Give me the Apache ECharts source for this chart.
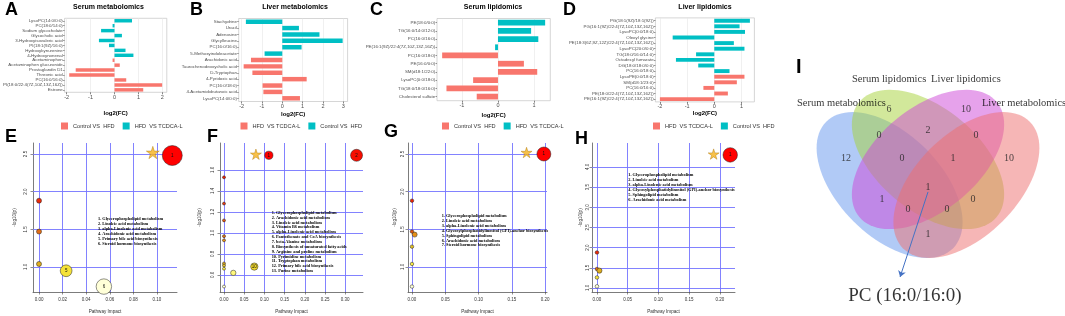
<!DOCTYPE html>
<html>
<head>
<meta charset="utf-8">
<title>Metabolomics and lipidomics overview</title>
<script src="https://cdn.jsdelivr.net/npm/echarts@6.0.0/dist/echarts.min.js"></script>
<style>
  html, body { margin: 0; padding: 0; background: #fff; }
  #chart { width: 1065px; height: 316px; }
</style>
</head>
<body>
<div id="chart"></div>
<script>
// ---------- A: serum metabolomics, log2(FC)
const catsA_teal = ['LysoPC(14:0/0:0)', 'PC(18:0/14:0)', 'Sodium glycocholate', 'Glycocholic acid',
  '3-Hydroxyisovaleric acid', 'PI(18:1(9Z)/16:0)', 'Hydroxykynurenine', '4-Hydroxynonenal'];
const fcA_teal = [0.73, -0.08, -0.56, 0.31, -0.65, -0.23, 0.46, 0.79];
const catsA_red = ['Acetaminophen', 'Acetaminophen glucuronide', 'Prostaglandin D1', 'Threonic acid',
  'PC(16:0/16:0)', 'PI(18:0/22:4(7Z,10Z,13Z,16Z))', 'Estrone'];
const fcA_red = [-0.08, 0.22, -1.62, -1.89, 0.49, 1.99, 1.2];
const ticksA = [-2, -1, 0, 1, 2];

// ---------- B: liver metabolomics
const catsB_teal = ['Stachydrine', 'Uracil', 'Adenosine', 'Glycylleucine', 'PC(16:0/16:0)', '5-Methoxyindoleacetate'];
const fcB_teal = [-1.79, 0.82, 1.83, 2.97, 0.95, -0.87];
const catsB_red = ['Arachidonic acid', 'Taurochenodeoxycholic acid', 'D-Tryptophan', '4-Pyridoxic acid',
  'PC(16:0/18:0)', '4-Acetamidobutanoic acid', 'LysoPC(14:0/0:0)'];
const fcB_red = [-1.54, -1.9, -1.47, 1.2, -0.97, -0.93, 0.87];
const ticksB = [-2, -1, 0, 1, 2, 3];

// ---------- C: serum lipidomics
const catsC_teal = ['PE(18:0/0:0)', 'TG(16:0/14:0/12:0)', 'PC(16:0/16:0)', 'PE(16:1(9Z)/22:4(7Z,10Z,13Z,16Z))'];
const fcC_teal = [1.31, 0.92, 1.12, -0.08];
const catsC_red = ['PC(16:0/18:0)', 'PE(16:0/0:0)', 'SM(d18:1/22:0)', 'LysoPC(0:0/18:0)',
  'TG(18:0/18:0/16:0)', 'Cholesterol sulfate'];
const fcC_red = [-1.55, 0.72, 1.09, -0.69, -1.43, -0.59];
const ticksC = [-1, 0, 1];

// ---------- D: liver lipidomics
const catsD_teal = ['PG(18:1(9Z)/18:1(9Z))', 'PG(16:1(9Z)/22:4(7Z,10Z,13Z,16Z))', 'LysoPC(0:0/18:0)', 'Oleoyl glycine',
  'PE(18:3(6Z,9Z,12Z)/22:4(7Z,10Z,13Z,16Z))', 'LysoPC(20:0/0:0)', 'TG(18:0/16:0/14:0)', 'Octadecyl fumarate',
  'DG(18:0/18:0/0:0)', 'PC(16:0/18:0)'];
const fcD_teal = [1.31, 0.93, 1.13, -1.53, 0.72, 1.11, -0.67, -1.41, -0.59, 0.56];
const catsD_red = ['LysoPE(0:0/18:0)', 'SM(d18:1/23:0)', 'PC(16:0/16:0)', 'PE(18:0/22:4(7Z,10Z,13Z,16Z))',
  'PE(16:1(9Z)/22:4(7Z,10Z,13Z,16Z))'];
const fcD_red = [1.11, 0.83, -0.40, 0.5, -2.0];
const ticksD = [-2, -1, 0, 1];

// ---------- E-H: pathway analysis, [impact, -log10(p), pathway no.]
const pathE = [[0.113, 2.48, 1], [0, 1.88, 2], [0, 1.47, 3], [0, 1.04, 4], [0.023, 0.95, 5], [0.055, 0.74, 6]];
const starE = [[0.0965, 2.52]];
const xTicksE = [0, 0.02, 0.04, 0.06, 0.08, 0.10];
const yTicksE = [1.0, 1.5, 2.0, 2.5];
const namesE = ['Glycerophospholipid metabolism', 'Linoleic acid metabolism', 'alpha-Linolenic acid metabolism',
  'Arachidonic acid metabolism', 'Primary bile acid biosynthesis', 'Steroid hormone biosynthesis'];

const pathF = [[0.111, 1.74, 1], [0.328, 1.74, 2], [0, 1.53, 3], [0, 1.28, 4], [0, 1.12, 5], [0, 0.97, 6],
  [0, 0.93, 7], [0, 0.71, 8], [0, 0.69, 9], [0.075, 0.68, 10], [0, 0.66, 11], [0.023, 0.62, 12], [0, 0.49, 13]];
const starF = [[0.079, 1.75]];
const xTicksF = [0, 0.05, 0.10, 0.15, 0.20, 0.25, 0.30];
const yTicksF = [0.6, 0.8, 1.0, 1.2, 1.4, 1.6];
const namesF = ['Glycerophospholipid metabolism', 'Arachidonic acid metabolism', 'Linoleic acid metabolism',
  'Vitamin B6 metabolism', 'alpha-Linolenic acid metabolism', 'Pantothenate and CoA biosynthesis',
  'beta-Alanine metabolism', 'Biosynthesis of unsaturated fatty acids', 'Arginine and proline metabolism',
  'Pyrimidine metabolism', 'Tryptophan metabolism', 'Primary bile acid biosynthesis', 'Purine metabolism'];

const pathG = [[0.198, 2.5, 1], [0, 1.88, 2], [0, 1.47, 3], [0.004, 1.43, 4], [0, 1.27, 5], [0, 1.04, 6], [0, 0.74, 7]];
const starG = [[0.172, 2.52]];
const xTicksG = [0, 0.05, 0.10, 0.15, 0.20];
const yTicksG = [1.0, 1.5, 2.0, 2.5];
const namesG = ['Glycerophospholipid metabolism', 'Linoleic acid metabolism', 'alpha-Linolenic acid metabolism',
  'Glycosylphosphatidylinositol (GPI)-anchor biosynthesis', 'Sphingolipid metabolism',
  'Arachidonic acid metabolism', 'Steroid hormone biosynthesis'];

const pathH = [[0.217, 4.3, 1], [0, 1.88, 2], [0, 1.47, 3], [0.004, 1.43, 4], [0, 1.26, 5], [0, 1.04, 6]];
const starH = [[0.19, 4.32]];
const xTicksH = [0, 0.05, 0.10, 0.15, 0.20];
const yTicksH = [1.0, 1.5, 2.0, 2.5, 3.0, 3.5, 4.0];
const namesH = ['Glycerophospholipid metabolism', 'Linoleic acid metabolism', 'alpha-Linolenic acid metabolism',
  'Glycosylphosphatidylinositol (GPI)-anchor biosynthesis', 'Sphingolipid metabolism', 'Arachidonic acid metabolism'];

// ---------- I: venn diagram
const vennSets = ['Serum metabolomics', 'Serum lipidomics', 'Liver lipidomics', 'Liver metabolomics'];
const vennRegions = ['SM', 'SL', 'LL', 'LM', 'SM&SL', 'SL&LL', 'LL&LM', 'SM&SL&LL', 'SL&LL&LM',
  'SM&LL', 'SL&LM', 'SM&SL&LL&LM', 'SM&LL&LM', 'SM&SL&LM', 'SM&LM'];
const vennCounts = [12, 6, 10, 10, 0, 2, 0, 0, 1, 1, 0, 1, 0, 0, 1];
const sharedLipid = 'PC (16:0/16:0)';

// layout of the venn in unit space (centre x, centre y, semi axes, rotation)
const vennShapes = [[0.35, 0.47, 0.35, 0.2, -45], [0.5, 0.57, 0.35, 0.2, -40],
  [0.5, 0.57, 0.35, 0.2, 40], [0.65, 0.47, 0.35, 0.2, 45]];
const vennFill = ['rgba(100,149,237,0.5)', 'rgba(165,210,55,0.5)', 'rgba(205,70,215,0.5)', 'rgba(238,110,110,0.5)'];
const vennCountPos = [[0.180, 0.576], [0.348, 0.767], [0.648, 0.767], [0.816, 0.576], [0.309, 0.665],
  [0.5, 0.685], [0.6875, 0.665], [0.398, 0.576], [0.598, 0.576], [0.320, 0.415], [0.676, 0.415],
  [0.5, 0.462], [0.422, 0.376], [0.574, 0.376], [0.5, 0.279]];
const vennSetPos = [[0.162, 0.790], [0.348, 0.884], [0.648, 0.884], [0.875, 0.790]];

const sans = '"Liberation Sans", Arial, sans-serif';
const serif = '"Liberation Serif", "Times New Roman", serif';
const RED = '#F8766D', TEAL = '#00BFC4';
const CTRL = 'Control VS  HFD', TREAT = 'HFD  VS TCDCA-L';

const barPanels = [
  { key: 'A', title: 'Serum metabolomics', titleX: 108.5, tc: catsA_teal, tv: fcA_teal, rc: catsA_red, rv: fcA_red,
    redName: CTRL, tealName: TREAT, grid: { left: 62.2, top: 18.3, width: 104.6, height: 74 },
    min: -2.084, max: 2.184, ticks: ticksA, nameGap: 18.5, legendLeft: 61 },
  { key: 'B', title: 'Liver metabolomics', titleX: 295, tc: catsB_teal, tv: fcB_teal, rc: catsB_red, rv: fcB_red,
    redName: TREAT, tealName: CTRL, grid: { left: 238.7, top: 18.5, width: 108.9, height: 83 },
    min: -2.1435, max: 3.2135, ticks: ticksB, nameGap: 9.5, legendLeft: 240.5 },
  { key: 'C', title: 'Serum lipidomics', titleX: 493, tc: catsC_teal, tv: fcC_teal, rc: catsC_red, rv: fcC_red,
    redName: CTRL, tealName: TREAT, grid: { left: 437, top: 18.5, width: 113.3, height: 82.2 },
    min: -1.693, max: 1.453, ticks: ticksC, nameGap: 11.3, legendLeft: 442 },
  { key: 'D', title: 'Liver lipidomics', titleX: 705, tc: catsD_teal, tv: fcD_teal, rc: catsD_red, rv: fcD_red,
    redName: TREAT, tealName: CTRL, grid: { left: 655.4, top: 17.9, width: 99, height: 84 },
    min: -2.1655, max: 1.4755, ticks: ticksD, nameGap: 8.1, legendLeft: 653 }
];

const scatterPanels = [
  { pts: pathE, star: starE, xt: xTicksE, yt: yTicksE, names: namesE,
    grid: { left: 33, top: 143, width: 144, height: 149 }, xr: [-0.0051, 0.117], yr: [0.668, 2.646],
    maxD: 20, starD: 13, list: { left: 98, top: 216.6, lh: 4.87 }, yMargin: 5, yGap: 16 },
  { pts: pathF, star: starF, xt: xTicksF, yt: yTicksF, names: namesF,
    grid: { left: 220, top: 143, width: 143, height: 149 }, xr: [-0.0099, 0.344], yr: [0.438, 1.857],
    maxD: 12, starD: 11, list: { left: 271.7, top: 210.3, lh: 4.86 }, yMargin: 5, yGap: 18 },
  { pts: pathG, star: starG, xt: xTicksG, yt: yTicksG, names: namesG,
    grid: { left: 408, top: 143, width: 139, height: 149 }, xr: [-0.006, 0.2027], yr: [0.668, 2.646],
    maxD: 14, starD: 11, list: { left: 441.7, top: 213.5, lh: 4.9 }, yMargin: 2.5, yGap: 11 },
  { pts: pathH, star: starH, xt: xTicksH, yt: yTicksH, names: namesH,
    grid: { left: 592, top: 143, width: 143, height: 149 }, xr: [-0.0081, 0.2248], yr: [0.90, 4.595],
    maxD: 14.5, starD: 11, list: { left: 628.3, top: 172.8, lh: 5.0 }, yMargin: 2, yGap: 9 }
];

// colour by pathway rank: first (most significant) red, last pale
const rankHeat = ['#FF0000', '#F21400', '#E43A12', '#E06414', '#E69018', '#DDB420', '#EED62A', '#FFF550', '#FFFFD8'];
const starPath = 'path://M50,0 L61,35 L98,35 L68,57 L79,91 L50,70 L21,91 L32,57 L2,35 L39,35 Z';

const grids = [], xAxes = [], yAxes = [], series = [], titles = [], legends = [], visualMaps = [];
const legendText = {};

barPanels.forEach((p, i) => {
  grids.push(Object.assign({ show: true, borderColor: '#c4c4c4', borderWidth: 0.7, backgroundColor: '#fff' }, p.grid));
  xAxes.push({
    gridIndex: i, type: 'value', min: p.min, max: p.max,
    axisLine: { show: false, onZero: false },
    axisTick: { show: true, length: 2, customValues: p.ticks, lineStyle: { color: '#333', width: 0.6 } },
    axisLabel: { fontSize: 5.5, color: '#4d4d4d', margin: 1.8, fontFamily: sans, customValues: p.ticks },
    splitLine: { show: true, lineStyle: { color: '#e6e6e6', width: 0.6 } },
    name: 'log2(FC)', nameLocation: 'middle', nameGap: p.nameGap,
    nameTextStyle: { fontSize: 6, fontWeight: 'bold', color: '#000', fontFamily: sans }
  });
  const cats = p.tc.concat(p.rc);
  yAxes.push({
    gridIndex: i, type: 'category', data: cats, inverse: true,
    axisLine: { show: false, onZero: false },
    axisTick: { show: true, length: 1.5, alignWithLabel: true, lineStyle: { color: '#333', width: 0.5 } },
    axisLabel: { fontSize: 4.4, color: '#4d4d4d', margin: 1.8, fontFamily: sans, interval: 0 },
    splitLine: { show: false }
  });
  const redKey = p.key + '_red', tealKey = p.key + '_teal';
  legendText[redKey] = p.redName;
  legendText[tealKey] = p.tealName;
  series.push({
    name: redKey, type: 'bar', xAxisIndex: i, yAxisIndex: i, barWidth: '70%', barGap: '-100%',
    itemStyle: { color: RED }, data: p.tc.map(() => '-').concat(p.rv)
  });
  series.push({
    name: tealKey, type: 'bar', xAxisIndex: i, yAxisIndex: i, barWidth: '70%', barGap: '-100%',
    itemStyle: { color: TEAL }, data: p.tv.concat(p.rc.map(() => '-'))
  });
  titles.push({
    text: p.title, left: p.titleX, top: 3.5, textAlign: 'center', padding: 0,
    textStyle: { fontSize: 7, fontWeight: 'bold', color: '#000', fontFamily: sans }
  });
  legends.push({
    left: p.legendLeft, top: 122.5, padding: 0, itemWidth: 7, itemHeight: 7, itemGap: 8, icon: 'rect',
    selectedMode: false, data: [redKey, tealKey], formatter: n => legendText[n],
    textStyle: { fontSize: 5.6, color: '#333', fontFamily: sans }
  });
});

scatterPanels.forEach((p, k) => {
  const gi = 4 + k;
  const xMaxData = Math.max(...p.pts.map(d => d[0]));
  const sizeOf = v => p.maxD * (0.25 + 0.75 * Math.sqrt(v[0] / xMaxData));
  grids.push(Object.assign({ show: false }, p.grid));
  xAxes.push({
    gridIndex: gi, type: 'value', min: p.xr[0], max: p.xr[1],
    axisLine: { show: true, onZero: false, lineStyle: { color: '#444', width: 0.7 } },
    axisTick: { show: true, length: 2.5, customValues: p.xt, lineStyle: { color: '#444', width: 0.6 } },
    axisLabel: { fontSize: 4.5, color: '#333', margin: 5.5, fontFamily: sans, customValues: p.xt,
      formatter: v => v.toFixed(2) },
    splitLine: { show: false },
    name: 'Pathway Impact', nameLocation: 'middle', nameGap: 17.5,
    nameTextStyle: { fontSize: 4.6, color: '#333', fontFamily: sans }
  });
  yAxes.push({
    gridIndex: gi, type: 'value', min: p.yr[0], max: p.yr[1],
    axisLine: { show: true, onZero: false, lineStyle: { color: '#444', width: 0.7 } },
    axisTick: { show: true, length: 2.5, customValues: p.yt, lineStyle: { color: '#444', width: 0.6 } },
    axisLabel: { fontSize: 4.5, color: '#333', margin: p.yMargin, rotate: 90, fontFamily: sans, customValues: p.yt,
      formatter: v => v.toFixed(1) },
    splitLine: { show: false },
    name: '-log10(p)', nameLocation: 'middle', nameGap: p.yGap, nameRotate: 90,
    nameTextStyle: { fontSize: 4.6, color: '#333', fontFamily: sans }
  });
  // blue reference grid at the tick values, kept under the bubbles
  series.push({
    type: 'line', xAxisIndex: gi, yAxisIndex: gi, data: [], z: 1, silent: true,
    markLine: {
      z: 1, silent: true, symbol: 'none', animation: false, label: { show: false },
      lineStyle: { color: '#7474ff', width: 1, type: 'solid', opacity: 0.9 },
      data: p.xt.map(v => ({ xAxis: v })).concat(p.yt.map(v => ({ yAxis: v })))
    }
  });
  visualMaps.push({
    type: 'continuous', show: false, seriesIndex: series.length, dimension: 2,
    min: 1, max: p.pts.length, inRange: { color: rankHeat }
  });
  series.push({
    type: 'scatter', xAxisIndex: gi, yAxisIndex: gi, z: 3, clip: false, data: p.pts,
    symbolSize: sizeOf,
    itemStyle: { borderColor: '#222', borderWidth: 0.5, opacity: 1 },
    label: { show: true, position: 'inside', fontSize: 4.5, color: '#111', fontFamily: sans,
      formatter: d => (sizeOf(d.value) >= 7 ? String(d.value[2]) : '') }
  });
  series.push({
    type: 'scatter', xAxisIndex: gi, yAxisIndex: gi, z: 4, clip: false, data: p.star,
    symbol: starPath, symbolSize: p.starD, symbolKeepAspect: true,
    itemStyle: { color: '#F6B21B', borderColor: '#A87000', borderWidth: 0.5 }
  });
  titles.push({
    text: p.names.map((n, j) => (j + 1) + '. ' + n).join('\n'), left: p.list.left, top: p.list.top, padding: 0,
    textStyle: { fontSize: 4.3, lineHeight: p.list.lh, fontWeight: 'bold', color: '#000', fontFamily: serif }
  });
});

// venn grid: unit space mapped so both axes share one scale
grids.push({ show: false, left: 780, top: 40, width: 285, height: 276 });
xAxes.push({ gridIndex: 8, type: 'value', min: -0.078, max: 1.035, show: false });
yAxes.push({ gridIndex: 8, type: 'value', min: -0.0416, max: 1.0366, show: false });
series.push({
  type: 'custom', xAxisIndex: 8, yAxisIndex: 8, silent: true, z: 1, data: vennShapes,
  renderItem: (params, api) => {
    const cx = api.value(0), cy = api.value(1), a = api.value(2), b = api.value(3);
    const r = api.value(4) * Math.PI / 180;
    const pts = [];
    for (let s = 0; s < 96; s++) {
      const t = s / 96 * Math.PI * 2;
      const x = cx + a * Math.cos(t) * Math.cos(r) - b * Math.sin(t) * Math.sin(r);
      const y = cy + a * Math.cos(t) * Math.sin(r) + b * Math.sin(t) * Math.cos(r);
      pts.push(api.coord([x, y]));
    }
    return { type: 'polygon', shape: { points: pts }, style: { fill: vennFill[params.dataIndex], stroke: null } };
  }
});
series.push({
  type: 'scatter', xAxisIndex: 8, yAxisIndex: 8, z: 3, symbolSize: 0, silent: true,
  data: vennCountPos.map((pos, j) => ({ value: [pos[0], pos[1], vennCounts[j]], name: vennRegions[j] })),
  label: { show: true, position: 'inside', formatter: d => String(d.value[2]), fontSize: 10, color: '#222',
    fontFamily: serif },
  markLine: {
    silent: true, symbol: ['none', 'arrow'], symbolSize: 6, label: { show: false }, animation: false,
    lineStyle: { color: '#4472C4', width: 1, type: 'solid' },
    data: [[{ coord: [0.5, 0.443] }, { coord: [0.391, 0.111] }]]
  }
});
series.push({
  type: 'scatter', xAxisIndex: 8, yAxisIndex: 8, z: 3, symbolSize: 0, silent: true,
  data: vennSetPos.map((pos, j) => ({ value: pos, name: vennSets[j] }))
    .concat([{ value: [0.41, 0.037], name: sharedLipid, label: { fontSize: 19 } }]),
  label: { show: true, position: 'inside', formatter: d => d.name, fontSize: 10.5, color: '#000', fontFamily: serif }
});

// panel letters
[['A', 5, 1], ['B', 190, 1], ['C', 370, 1], ['D', 563, 1], ['E', 5, 128], ['F', 207, 128],
 ['G', 384, 123], ['H', 575, 130], ['I', 796, 57]].forEach(l => {
  titles.push({
    text: l[0], left: l[1], top: l[2], padding: 0,
    textStyle: { fontSize: l[0] === 'I' ? 20 : 18, fontWeight: 'bold', color: '#000', fontFamily: sans }
  });
});

const chart = echarts.init(document.getElementById('chart'), null, { renderer: 'canvas' });
chart.setOption({
  animation: false,
  backgroundColor: '#fff',
  title: titles,
  legend: legends,
  grid: grids,
  xAxis: xAxes,
  yAxis: yAxes,
  visualMap: visualMaps,
  series: series
});
</script>
</body>
</html>
